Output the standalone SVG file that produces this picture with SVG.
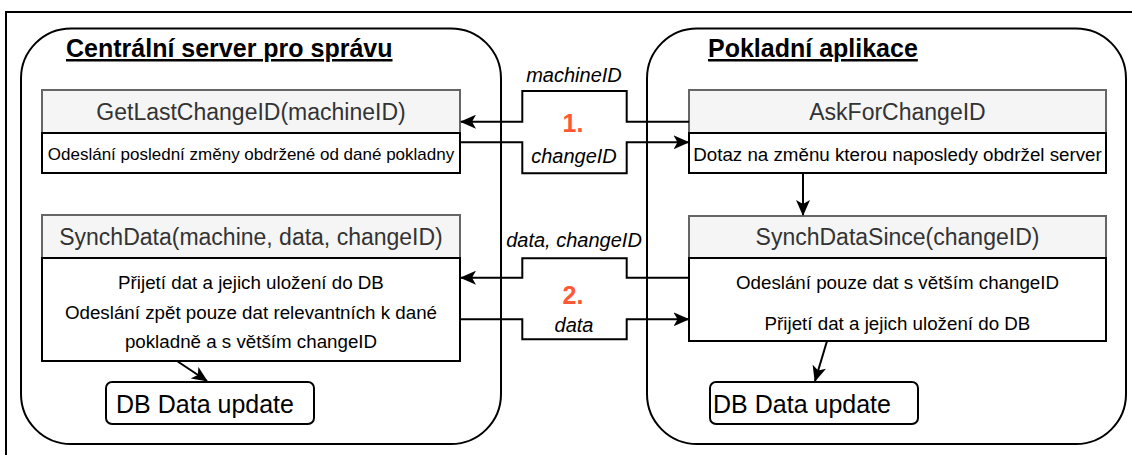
<svg xmlns="http://www.w3.org/2000/svg" width="1132" height="455" viewBox="0 0 1132 455">
<style>
text{font-family:"Liberation Sans",Arial,sans-serif;}
.frame{fill:none;stroke:#000;stroke-width:2;}
.cont{fill:#fff;stroke:#000;stroke-width:2;}
.title{font-size:25px;font-weight:bold;text-decoration:underline;fill:#000;}
.hdr{fill:#f5f5f5;stroke:#666;stroke-width:2;}
.body{fill:#fff;stroke:#000;stroke-width:2;}
.htxt{font-size:23px;fill:#333;text-anchor:middle;dominant-baseline:central;}
.btxt{font-size:18.75px;fill:#000;text-anchor:middle;dominant-baseline:central;}
.db{fill:#fff;stroke:#000;stroke-width:2;}
.dbtxt{font-size:25px;fill:#000;text-anchor:middle;dominant-baseline:central;}
.edge{fill:none;stroke:#000;stroke-width:2;marker-end:url(#arr);}
.lbl{font-size:20px;font-style:italic;fill:#000;text-anchor:middle;dominant-baseline:central;}
.num{font-size:25px;font-weight:bold;fill:#FF5733;text-anchor:middle;dominant-baseline:central;}
</style>
<defs>
<marker id="arr" viewBox="0 0 16 14" refX="15" refY="7" markerWidth="16" markerHeight="14" orient="auto" markerUnits="userSpaceOnUse">
<path d="M0,0 L16,7 L0,14 L4,7 Z" fill="#000"/>
</marker>
</defs>
<rect x="0" y="0" width="1132" height="455" fill="#fff"/>
<rect class="frame" x="6" y="12" width="1140" height="460"/>
<g id="server">
<rect class="cont" x="21" y="28.5" width="480" height="415.5" rx="50" ry="50"/>
<text class="title" x="66" y="57">Centrální server pro správu</text>
</g>
<g id="app">
<rect class="cont" x="647" y="28.5" width="479" height="415.5" rx="50" ry="50"/>
<text class="title" x="708" y="57">Pokladní aplikace</text>
</g>
<g id="getlast">
<rect class="hdr" x="42" y="90" width="418" height="43"/>
<rect class="body" x="42" y="133" width="418" height="40"/>
<text class="htxt" x="251" y="112">GetLastChangeID(machineID)</text>
<text class="btxt" x="251" y="154" style="font-size:17px">Odeslání poslední změny obdržené od dané pokladny</text>
</g>
<g id="askfor">
<rect class="hdr" x="689" y="90" width="417" height="43"/>
<rect class="body" x="689" y="133" width="417" height="40"/>
<text class="htxt" x="897.5" y="112">AskForChangeID</text>
<text class="btxt" x="897.5" y="154">Dotaz na změnu kterou naposledy obdržel server</text>
</g>
<g id="synchdata">
<rect class="hdr" x="42" y="215" width="418" height="43"/>
<rect class="body" x="42" y="258" width="418" height="103"/>
<text class="htxt" x="251" y="237">SynchData(machine, data, changeID)</text>
<text class="btxt" x="251" y="282">Přijetí dat a jejich uložení do DB</text>
<text class="btxt" x="251" y="312">Odeslání zpět pouze dat relevantních k dané</text>
<text class="btxt" x="251" y="341">pokladně a s větším changeID</text>
</g>
<g id="synchsince">
<rect class="hdr" x="689" y="216" width="417" height="42"/>
<rect class="body" x="689" y="258" width="417" height="83"/>
<text class="htxt" x="897.5" y="237">SynchDataSince(changeID)</text>
<text class="btxt" x="897.5" y="282">Odeslání pouze dat s větším changeID</text>
<text class="btxt" x="897.5" y="323">Přijetí dat a jejich uložení do DB</text>
</g>
<g id="db-left">
<rect class="db" x="106" y="382" width="208" height="42" rx="6" ry="6"/>
<text class="dbtxt" x="205" y="404">DB Data update</text>
</g>
<g id="db-right">
<rect class="db" x="710" y="382" width="208" height="42" rx="6" ry="6"/>
<text class="dbtxt" x="802" y="404">DB Data update</text>
</g>
<g id="connectors">
<path class="edge" d="M689,121.7 H626.7 V91 H522.3 V121.7 H461"/>
<path class="edge" d="M460,142.3 H522.3 V173.3 H626.7 V142.3 H688.5"/>
<path class="edge" d="M689,277.7 H626.7 V258.3 H522.3 V277.7 H461"/>
<path class="edge" d="M460,319.3 H522.3 V339.3 H626.7 V319.3 H688.5"/>
<path class="edge" d="M803,173 V215"/>
<path class="edge" d="M177,361 L207,381"/>
<path class="edge" d="M827,341 L815,381"/>
<text class="lbl" x="574" y="75">machineID</text>
<text class="num" x="573" y="123">1.</text>
<text class="lbl" x="574" y="156">changeID</text>
<text class="lbl" x="574" y="240">data, changeID</text>
<text class="num" x="573" y="295">2.</text>
<text class="lbl" x="574" y="325">data</text>
</g>
</svg>
